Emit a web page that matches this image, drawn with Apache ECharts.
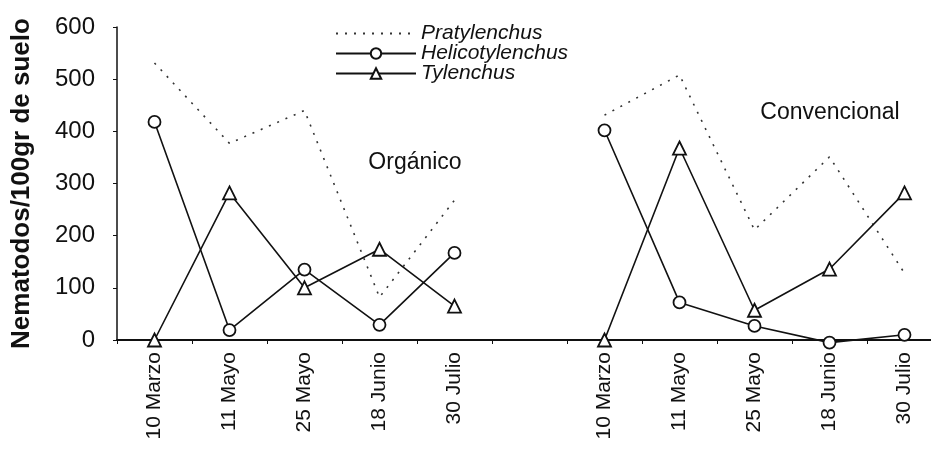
<!DOCTYPE html>
<html>
<head>
<meta charset="utf-8">
<script src="https://cdn.jsdelivr.net/npm/echarts@6/dist/echarts.min.js"></script>
<style>
  html, body { margin: 0; padding: 0; background: #fff; }
  #chart { width: 931px; height: 459px; }
</style>
</head>
<body>
<div id="chart"></div>
<script>
// Sampling dates for the two systems; the empty slot separates the two groups.
const categories = ['10 Marzo', '11 Mayo', '25 Mayo', '18 Junio', '30 Julio', '',
                    '10 Marzo', '11 Mayo', '25 Mayo', '18 Junio', '30 Julio'];

// Nematodes per 100 g of soil (Orgánico first, then Convencional).
const pratylenchus    = [531, 377, 440, 82, 268, null, 431, 508, 211, 351, 128];
const helicotylenchus = [418, 19, 135, 29, 167, null, 402, 72, 27, -5, 10];
const tylenchus       = [0, 282, 100, 174, 65, null, 0, 368, 57, 136, 282];

const yTicks = [0, 100, 200, 300, 400, 500, 600];

const FONT = '"Liberation Sans", Arial, sans-serif';
const INK = '#111';

const chart = echarts.init(document.getElementById('chart'), null, { renderer: 'canvas' });

chart.setOption({
  animation: false,
  backgroundColor: '#fff',
  grid: {
    left: 117, right: -11, top: 27, bottom: 119,
    containLabel: false,
    outerBoundsMode: 'none'
  },
  legend: {
    orient: 'vertical',
    left: 330,
    top: 18,
    itemWidth: 80,
    itemHeight: 13,
    itemGap: -1,
    textStyle: { fontFamily: FONT, fontSize: 21, fontStyle: 'italic', color: INK, lineHeight: 17 },
    data: [
      { name: 'Pratylenchus', itemStyle: { opacity: 0 } },
      'Helicotylenchus',
      'Tylenchus'
    ]
  },
  xAxis: {
    type: 'category',
    data: categories,
    boundaryGap: true,
    axisLine: { lineStyle: { color: INK, width: 2 } },
    axisTick: { show: true, interval: 0, length: 4, lineStyle: { color: INK, width: 1 } },
    axisLabel: { interval: 0, rotate: 90, margin: 12, fontFamily: FONT, fontSize: 21, color: INK }
  },
  yAxis: {
    type: 'value',
    min: yTicks[0],
    max: yTicks[yTicks.length - 1],
    interval: 100,
    name: 'Nematodos/100gr de suelo',
    nameLocation: 'middle',
    nameRotate: 90,
    nameGap: 82,
    nameTextStyle: { fontFamily: FONT, fontSize: 26, fontWeight: 'bold', color: INK },
    axisLine: { show: true, lineStyle: { color: INK, width: 1.5 } },
    axisTick: { show: true, length: 4, lineStyle: { color: INK } },
    axisLabel: { margin: 22, fontFamily: FONT, fontSize: 24, color: INK },
    splitLine: { show: false }
  },
  series: [
    {
      name: 'Pratylenchus',
      type: 'line',
      data: pratylenchus,
      connectNulls: false,
      clip: false,
      showSymbol: false,
      symbol: 'none',
      lineStyle: { color: '#333', width: 1.6, type: [2, 7] },
      itemStyle: { color: 'rgba(0,0,0,0)' }
    },
    {
      name: 'Helicotylenchus',
      type: 'line',
      data: helicotylenchus,
      connectNulls: false,
      clip: false,
      symbol: 'circle',
      symbolSize: 12,
      lineStyle: { color: INK, width: 1.6 },
      itemStyle: { color: '#fff', borderColor: INK, borderWidth: 1.8 }
    },
    {
      name: 'Tylenchus',
      type: 'line',
      data: tylenchus,
      connectNulls: false,
      clip: false,
      symbol: 'triangle',
      symbolSize: 13,
      lineStyle: { color: INK, width: 1.6 },
      itemStyle: { color: '#fff', borderColor: INK, borderWidth: 1.8 }
    }
  ],
  graphic: [
    {
      type: 'text', x: 415, y: 163,
      style: { text: 'Orgánico', fontFamily: FONT, fontSize: 23, fill: INK, align: 'center', verticalAlign: 'middle' }
    },
    {
      type: 'text', x: 830, y: 113,
      style: { text: 'Convencional', fontFamily: FONT, fontSize: 23, fill: INK, align: 'center', verticalAlign: 'middle' }
    }
  ]
});
</script>
</body>
</html>
